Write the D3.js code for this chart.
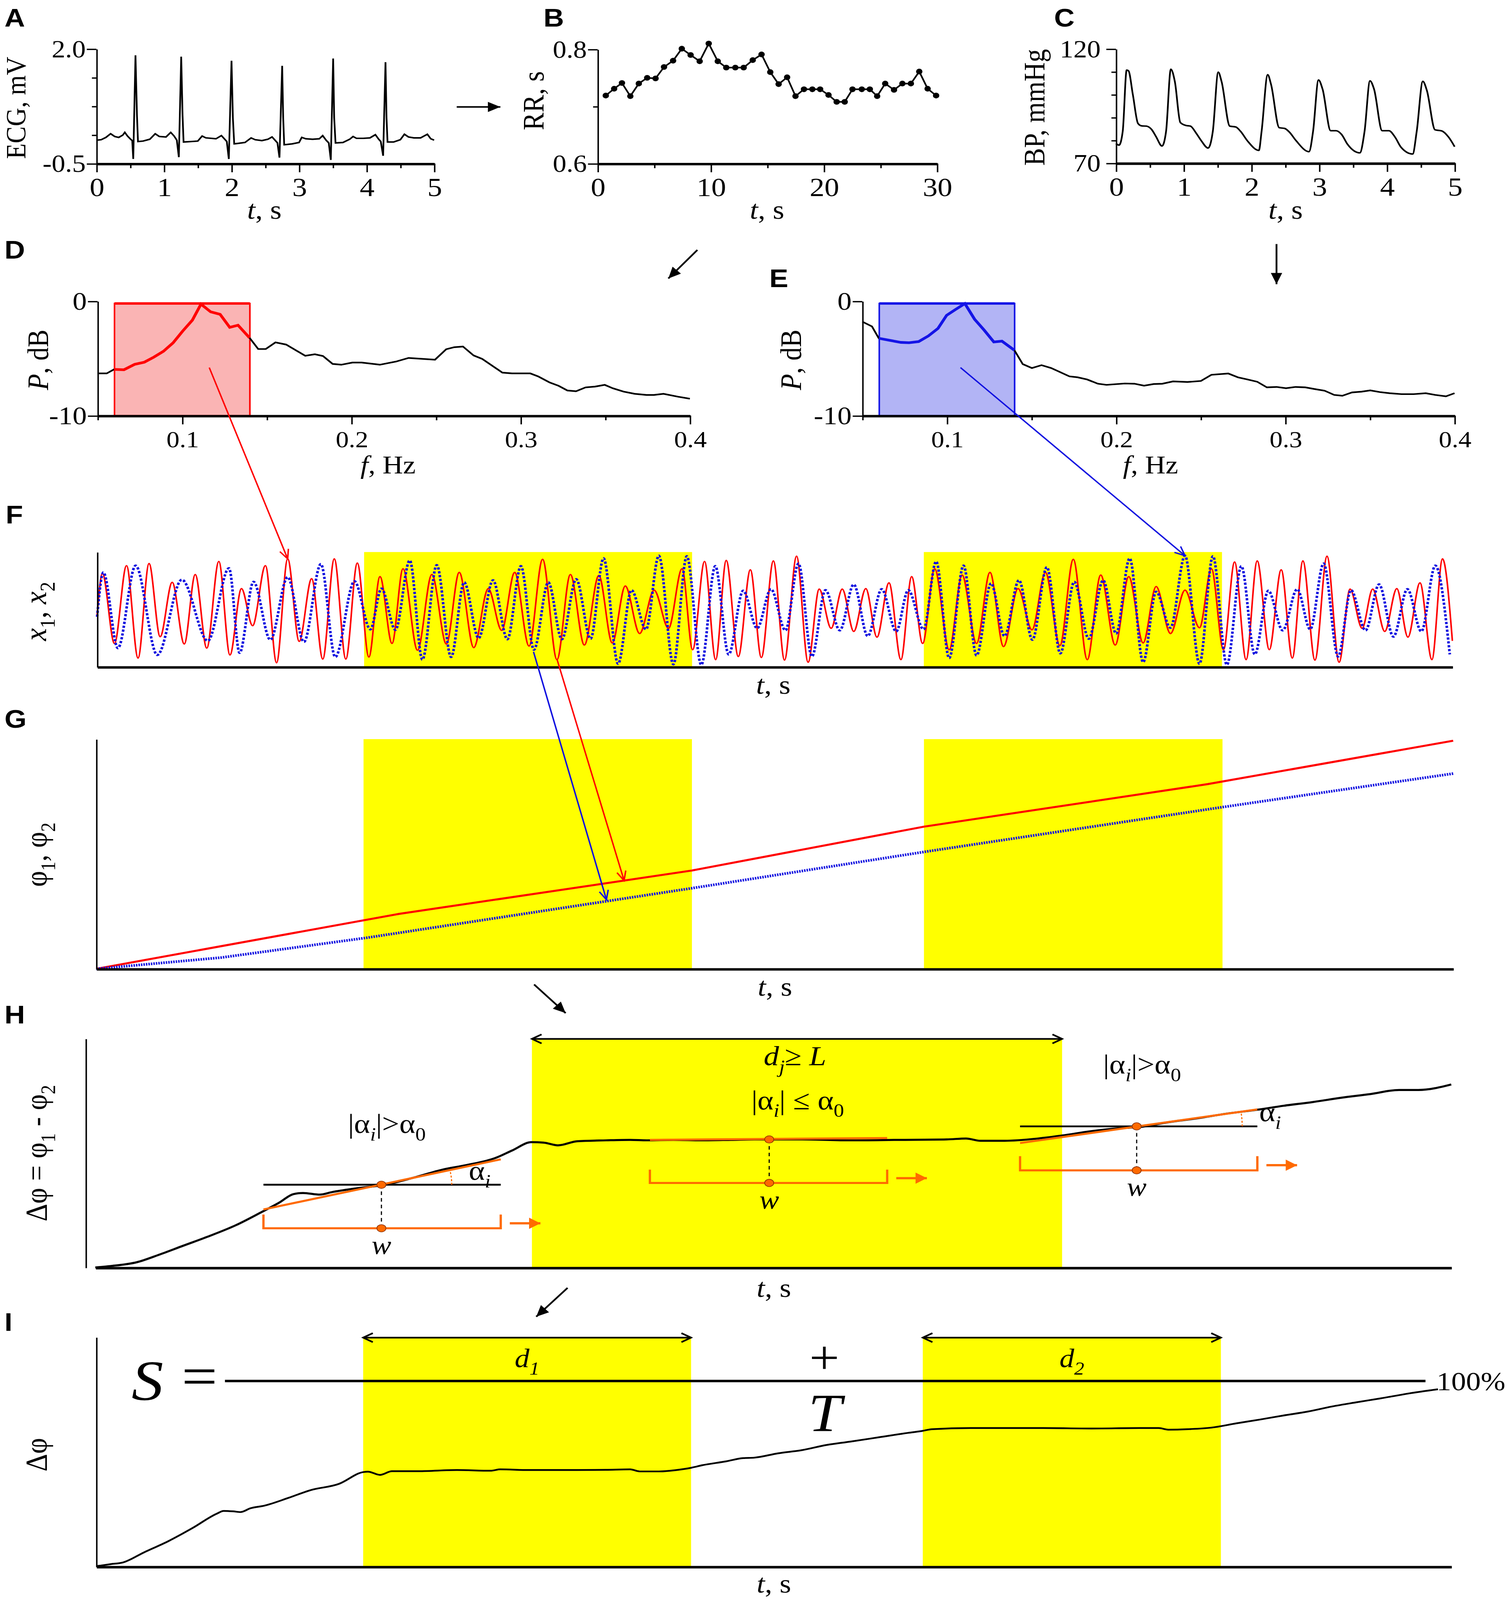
<!DOCTYPE html>
<html>
<head>
<meta charset="utf-8">
<script src="https://cdn.jsdelivr.net/npm/d3@7"></script>
<style>
html, body { margin: 0; padding: 0; background: #fff; width: 100%; height: 100%; overflow: hidden; }
svg { display: block; width: 100vw; height: 100vh; }
text { white-space: pre; }
</style>
</head>
<body>
<script>
var serif = "'Liberation Serif', 'Times New Roman', serif";
var sans = "'Liberation Sans', Arial, sans-serif";
var RED = "#ff0000", BLUE = "#1010e0", ORANGE = "#ff6a00", YELLOW = "#ffff00";

// ---- A: ECG, [t s, mV]
var ecg = [[0,0.01],[0.07,0.02],[0.14,0.07],[0.21,0.15],[0.27,0.09],[0.33,0.07],[0.39,0.12],[0.42,0.18],[0.46,0.1],[0.5,0.04],[0.53,0.0],[0.545,-0.4],[0.578,1.86],[0.6,0.55],[0.615,-0.02],[0.69,-0.01],[0.79,0.03],[0.87,0.15],[0.93,0.09],[1.03,0.08],[1.1,0.18],[1.15,0.1],[1.19,0.01],[1.22,-0.36],[1.255,1.83],[1.275,0.55],[1.29,-0.03],
  [1.4,-0.02],[1.5,-0.01],[1.565,0.1],[1.62,0.06],[1.7,0.05],[1.77,0.04],[1.85,0.11],[1.9,0.03],[1.93,-0.02],[1.96,-0.4],[2.0,1.74],[2.02,0.5],[2.04,-0.07],
  [2.1,-0.06],[2.2,-0.04],[2.29,0.06],[2.35,0.02],[2.45,0.0],[2.54,0.03],[2.6,0.08],[2.65,0.0],[2.68,-0.05],[2.71,-0.37],[2.75,1.63],[2.765,0.5],[2.78,-0.09],
  [2.9,-0.07],[3.0,-0.04],[3.04,0.07],[3.1,0.04],[3.2,0.03],[3.3,0.04],[3.35,0.11],[3.4,0.01],[3.44,-0.05],[3.47,-0.42],[3.505,1.79],[3.52,0.5],[3.54,-0.05],
  [3.65,-0.04],[3.75,0.03],[3.8,0.09],[3.85,0.05],[3.95,0.05],[4.05,0.06],[4.13,0.13],[4.18,0.03],[4.21,-0.02],[4.245,-0.33],[4.28,1.71],[4.295,0.5],[4.31,-0.03],
  [4.4,-0.03],[4.5,0.02],[4.56,0.14],[4.62,0.08],[4.7,0.06],[4.8,0.06],[4.9,0.14],[4.95,0.04],[5.0,0.01]];

// ---- B: RR intervals
var rrT = [0.72,1.46,2.15,2.89,3.64,4.38,5.12,5.87,6.67,7.44,8.22,9.02,9.82,10.62,11.37,12.17,12.91,13.71,14.49,15.26,16.0,16.75,17.49,18.24,18.98,19.67,20.41,21.13,21.84,22.53,23.35,24.06,24.71,25.42,26.2,26.94,27.69,28.43,29.17,29.92];
var rrV = [0.719,0.731,0.741,0.718,0.740,0.750,0.749,0.769,0.780,0.801,0.790,0.779,0.810,0.779,0.768,0.768,0.768,0.781,0.791,0.760,0.739,0.751,0.718,0.730,0.730,0.730,0.720,0.708,0.708,0.730,0.730,0.730,0.718,0.740,0.729,0.740,0.740,0.761,0.731,0.719];

// ---- C: blood pressure, [t s, mmHg]
var bp = [[0,78.5],[0.046,77.9],[0.1,83.9],[0.158,110.7],[0.185,110.4],[0.25,99.9],[0.325,87.4],[0.38,86.3],[0.45,86.2],[0.53,84.6],[0.59,81.7],[0.68,77.5],
  [0.74,83.9],[0.81,111.1],[0.87,105.6],[0.95,87.8],[1.03,86.5],[1.1,86.2],[1.18,83.3],[1.26,79.8],[1.36,76.6],
  [1.43,83.9],[1.51,109.8],[1.56,105.6],[1.68,86.2],[1.77,85.8],[1.84,83.9],[1.94,79.8],[2.11,75.6],
  [2.15,83.9],[2.24,108.7],[2.29,104.4],[2.41,85.5],[2.49,85.2],[2.56,83.6],[2.66,79.8],[2.85,75.0],
  [2.91,83.9],[2.99,106.4],[3.05,102.4],[3.17,84.2],[3.25,84.2],[3.33,82.6],[3.42,78.2],[3.6,74.5],
  [3.67,83.9],[3.75,106.0],[3.81,102.4],[3.93,84.2],[4.03,84.2],[4.12,81.4],[4.21,76.9],[4.38,74.0],
  [4.44,83.9],[4.53,105.8],[4.59,101.8],[4.71,84.6],[4.81,84.1],[4.91,81.4],[5.0,77.2]];

// ---- D, E: spectra [f Hz, dB]
var specD = [[0.05,-6.31],[0.0554,-6.31],[0.0597,-5.96],[0.0656,-5.99],[0.0719,-5.52],[0.0776,-5.33],[0.0832,-4.89],[0.0889,-4.38],[0.0946,-3.64],[0.1003,-2.61],[0.106,-1.66],[0.1111,-0.26],[0.1168,-0.93],[0.1224,-1.15],[0.1281,-2.29],[0.133,-2.1],[0.1398,-3.2],[0.1449,-4.18],[0.1494,-4.18],[0.1551,-3.6],[0.1614,-3.79],[0.1727,-4.77],[0.1784,-4.64],[0.1832,-4.79],[0.1889,-5.48],[0.194,-5.55],[0.2006,-5.36],[0.206,-5.36],[0.2168,-5.55],[0.2267,-5.26],[0.2338,-4.96],[0.2494,-5.11],[0.256,-4.2],[0.2608,-4.02],[0.2659,-3.96],[0.2722,-4.74],[0.2773,-5.04],[0.2892,-6.24],[0.2949,-6.31],[0.3057,-6.31],[0.3105,-6.58],[0.317,-7.09],[0.3224,-7.39],[0.3276,-7.8],[0.3327,-7.87],[0.3384,-7.53],[0.344,-7.46],[0.3497,-7.31],[0.3545,-7.61],[0.3608,-7.9],[0.3673,-8.09],[0.3744,-8.19],[0.3787,-8.19],[0.3844,-8.09],[0.3929,-8.34],[0.4,-8.52]];
var specE = [[0.05,-1.79],[0.0557,-2.21],[0.0597,-3.24],[0.0657,-3.41],[0.0728,-3.6],[0.0776,-3.63],[0.0833,-3.53],[0.089,-3.04],[0.0947,-2.38],[0.0998,-1.24],[0.1049,-0.74],[0.1106,-0.21],[0.1163,-1.57],[0.122,-2.53],[0.1277,-3.56],[0.1325,-3.49],[0.1399,-4.29],[0.1448,-5.5],[0.1502,-5.84],[0.1559,-5.59],[0.1616,-5.84],[0.1724,-6.57],[0.1772,-6.65],[0.1829,-6.84],[0.1892,-7.21],[0.1943,-7.31],[0.2051,-7.19],[0.2108,-7.21],[0.2165,-7.38],[0.2222,-7.24],[0.2273,-7.21],[0.2336,-7.01],[0.2421,-7.06],[0.2501,-6.97],[0.2563,-6.43],[0.2663,-6.32],[0.272,-6.65],[0.2777,-6.84],[0.2834,-7.04],[0.2891,-7.53],[0.2948,-7.49],[0.3004,-7.6],[0.3061,-7.49],[0.3118,-7.53],[0.3175,-7.68],[0.3232,-7.82],[0.3289,-8.19],[0.3337,-8.26],[0.3394,-7.97],[0.3451,-7.9],[0.3502,-7.79],[0.3559,-7.94],[0.3616,-8.04],[0.3687,-8.12],[0.3758,-8.12],[0.383,-8.04],[0.3886,-8.19],[0.3949,-8.31],[0.4,-8.04]];
var lfBand = [0.06, 0.14];

// ---- F: filtered signals, extrema [t %, a.u.]
var x1 = [[0,-0.1],[0.39,0.69],[1.28,-0.65],[2.17,0.84],[3.02,-0.93],[3.83,0.88],[4.65,-0.52],[5.54,0.52],[6.43,-0.66],[7.24,0.67],[8.09,-0.74],[8.98,0.92],[9.8,-0.87],[10.65,0.4],[11.47,-0.31],[12.42,0.84],[13.24,-1.02],[14.06,0.97],[14.91,-0.61],[15.83,0.59],[16.65,-0.95],[17.5,0.97],[18.35,-0.95],[19.2,0.89],[20.05,-0.91],[20.87,0.63],[21.76,-0.65],[22.57,0.78],[23.64,-0.78],[24.7,0.67],[25.77,-0.66],[26.72,0.71],[27.79,-0.73],[28.86,0.4],[29.85,-0.4],[30.81,0.71],[31.87,-0.7],[32.87,0.96],[33.93,-0.96],[34.92,0.67],[35.95,-0.68],[37.02,0.65],[38.01,-0.64],[38.97,0.45],[40.03,-0.46],[41.1,0.37],[42.16,-0.36],[43.16,0.78],[43.94,-0.77],[44.82,0.92],[45.64,-0.96],[46.42,0.94],[47.31,-0.9],[48.2,0.76],[49.01,-0.92],[49.9,0.93],[50.72,-0.97],[51.61,1.02],[52.46,-1.01],[53.28,0.39],[54.16,-0.36],[54.98,0.39],[55.83,-0.42],[56.72,0.4],[57.54,-0.53],[58.43,0.51],[59.31,-0.96],[60.1,0.63],[60.91,-0.65],[61.8,0.78],[62.87,-0.77],[63.82,0.66],[64.89,-0.65],[65.88,0.71],[66.88,-0.71],[67.95,0.4],[68.98,-0.39],[69.97,0.71],[71.04,-0.69],[72.03,0.96],[73.06,-0.96],[74.05,0.66],[75.12,-0.68],[76.12,0.63],[77.18,-0.64],[78.14,0.44],[79.2,-0.46],[80.27,0.37],[81.34,-0.35],[82.22,0.78],[83.11,-0.77],[83.93,0.91],[84.78,-0.96],[85.6,0.93],[86.49,-0.77],[87.37,0.76],[88.19,-0.93],[88.97,0.93],[89.86,-0.97],[90.75,1.02],[91.64,-1.01],[92.45,0.39],[93.34,-0.36],[94.12,0.39],[95.01,-0.42],[95.9,0.4],[96.72,-0.53],[97.61,0.51],[98.49,-0.96],[99.27,0.97],[100,-0.6]];
var x2 = [[0,-0.14],[0.46,0.71],[1.53,-0.74],[2.84,0.84],[4.44,-0.87],[6.25,0.57],[8.17,-0.6],[9.73,0.79],[10.51,-0.83],[11.54,0.53],[12.78,-0.58],[14.06,0.62],[15.26,-0.62],[16.51,0.87],[17.57,-0.91],[18.99,0.54],[20.16,-0.38],[20.98,0.4],[22.01,-0.39],[23.07,0.94],[24,-0.96],[25.06,0.85],[26.12,-0.91],[27.08,0.52],[28.15,-0.55],[29.21,0.56],[30.27,-0.57],[31.27,0.83],[32.23,-0.77],[33.29,0.52],[34.29,-0.57],[35.35,0.58],[36.41,-0.56],[37.37,0.98],[38.44,-1.04],[39.43,0.37],[40.5,-0.38],[41.45,1.03],[42.52,-1.05],[43.51,1.02],[44.58,-1.06],[45.61,0.83],[46.6,-0.86],[47.67,0.36],[48.7,-0.36],[49.72,0.39],[50.79,-0.4],[51.75,0.88],[52.74,-0.9],[53.74,0.37],[54.8,-0.4],[55.83,0.48],[56.86,-0.51],[57.89,0.39],[58.96,-0.42],[59.85,0.37],[60.98,-0.38],[61.91,0.92],[62.87,-0.93],[63.93,0.84],[64.89,-0.88],[65.96,0.5],[66.95,-0.51],[68.02,0.56],[69.01,-0.58],[70.08,0.81],[71.07,-0.84],[72.1,0.53],[73.17,-0.56],[74.23,0.56],[75.19,-0.46],[76.19,0.98],[77.18,-1.01],[78.14,0.34],[79.2,-0.35],[80.27,1.03],[81.34,-1.04],[82.33,1.02],[83.36,-1.06],[84.43,0.83],[85.42,-0.86],[86.42,0.36],[87.48,-0.4],[88.55,0.39],[89.51,-0.38],[90.5,0.88],[91.57,-0.9],[92.52,0.37],[93.59,-0.4],[94.59,0.48],[95.65,-0.52],[96.68,0.39],[97.71,-0.42],[98.74,0.84],[99.81,-0.86]];
var syncStart = [19.7, 61.0], syncEnd = [43.9, 83.0];

// ---- G: phases
var phi1 = [[0,0],[22.3,23.9],[43.9,42.8],[61,61.9],[81.9,80.4],[100,99.3]];
var phi2 = [[0,0],[9.2,4.9],[19.9,13.5],[43.9,35.1],[61,50.9],[83,70.4],[100,85]];

// ---- H: phase difference and sliding windows
var dphiH = [[0,0.1],[1.13,0.7],[3.08,2.4],[4.68,5.6],[6.45,9.5],[8.23,13.4],[10.35,18.5],[12.3,24.4],[13.54,28.3],[14.61,32.1],[15.32,32.6],[16.56,31.9],[17.46,33.0],[19.22,34.6],[21.35,36.2],[23.48,39.3],[25.61,42.8],[27.38,44.8],[29.51,47.9],[30.75,51.2],[32.17,54.8],[33.06,54.6],[34.12,53.4],[35.54,55.2],[37.67,55.6],[39.44,55.8],[40.68,55.6],[42.63,55.8],[44.76,55.6],[46.89,55.8],[48.59,56.0],[52.14,56.0],[55.69,55.6],[59.24,55.8],[62.79,56.0],[64.21,56.4],[65.28,55.4],[67.05,55.4],[69.54,56.4],[71.31,57.7],[73.44,59.6],[75.57,60.9],[76.99,61.4],[79.12,63.5],[81.25,65.2],[83.38,67.2],[85.87,69.1],[87.64,70.7],[89.77,72.3],[91.9,74.2],[94.03,75.8],[96.16,77.6],[97.58,77.6],[100,80.0]];
var hBand = [32.2, 71.3];
var winMid = [21.1, 49.7, 76.8];
var winFrom = [12.4, 40.9, 68.2];
var winTo = [29.9, 58.4, 85.7];
var winLevel = [36.2, 56.0, 61.7];
var fitFrom = [25.4, 55.8, 54.4];
var fitTo = [47.3, 56.6, 69.1];
var bracketTop = [23.2, 42.8, 48.7];
var bracketBase = [17.2, 37.0, 42.5];
var winSteep = [true, false, true];
var arcR = [62, 0, 93];

// ---- I: phase difference, synchronization index
var dphiI = [[0,0.2],[1.06,1.1],[1.95,1.8],[3.55,6.3],[5.32,11.1],[7.1,16.8],[8.87,23.0],[9.41,24.3],[10.11,24.1],[10.65,23.8],[11.36,25.4],[12.42,26.6],[14.2,30.0],[15.79,33.3],[17.92,36.1],[19.7,41.2],[20.05,41.4],[20.94,40.0],[21.83,41.6],[23.78,41.6],[26.62,42.1],[29.1,41.8],[29.81,42.4],[31.95,42.1],[35.45,42.1],[37.62,42.2],[39.4,42.4],[40.11,41.5],[41.53,41.5],[42.95,42.2],[43.91,43.1],[44.72,44.2],[46.5,45.9],[47.74,47.3],[48.56,47.5],[50.33,49.4],[52.1,50.8],[53.88,53.0],[55.66,54.5],[57.79,56.4],[59.92,58.3],[60.81,59.0],[61.7,59.9],[64.54,60.4],[66.33,60.4],[69.88,60.4],[73.43,60.2],[76.98,60.4],[78.41,60.4],[79.12,59.7],[80.54,59.9],[82.32,60.6],[84.1,62.4],[85.87,64.1],[87.65,65.9],[89.43,67.6],[91.2,69.8],[92.98,71.6],[94.76,73.3],[96.89,75.5],[99.02,77.3]];

// ---------------------------------------------------------------
// the figure is laid out in a 1329.9 x 1565.1 box and stretched to the window
var svg = d3.select("body").append("svg")
  .attr("viewBox", "0 0 1329.9 1565.1")
  .attr("preserveAspectRatio", "none");

var defs = svg.append("defs");
function marker(id, d, w, h, color, filled, sw) {
  defs.append("marker").attr("id", id)
    .attr("viewBox", "0 0 " + w + " " + h)
    .attr("refX", w).attr("refY", h / 2)
    .attr("markerWidth", w).attr("markerHeight", h)
    .attr("markerUnits", "userSpaceOnUse")
    .attr("orient", "auto-start-reverse")
    .attr("overflow", "visible")
    .append("path").attr("d", d)
    .attr("fill", filled ? color : "none")
    .attr("stroke", filled ? "none" : color)
    .attr("stroke-width", sw || 1.3);
}
marker("headBlack", "M0,0L11,5L0,10Z", 11, 10, "#000", true);
marker("headOrange", "M0,0L10,5.5L0,11Z", 10, 11, ORANGE, true);
marker("openRed", "M0,0L9,4L0,8", 9, 8, RED, false, 1.3);
marker("openBlue", "M0,0L9,4L0,8", 9, 8, BLUE, false, 1.3);
marker("chev", "M0,0L8.5,4.4L0,8.8", 8.5, 8.8, "#000", false, 1.6);

function rich(x, y, parts, size, anchor, rotate) {
  var t = svg.append("text")
    .attr("transform", "translate(" + x + "," + y + ")" + (rotate ? " rotate(-90)" : ""))
    .attr("font-family", serif).attr("font-size", size)
    .attr("text-anchor", anchor || "middle").attr("fill", "#000");
  var shift = 0;
  parts.forEach(function (p) {
    var f = p[1] || "";
    var s = t.append("tspan").text(p[0]);
    var want = f.indexOf("s") >= 0 ? 0.28 * size : 0;
    if (want !== shift) { s.attr("dy", want - shift); shift = want; }
    if (f.indexOf("s") >= 0) s.attr("font-size", size * 0.68);
    if (f.indexOf("i") >= 0) s.attr("font-style", "italic");
  });
  return t;
}

function letter(x, y, s) {
  svg.append("text").attr("x", x).attr("y", y).text(s)
    .attr("font-family", sans).attr("font-weight", "bold").attr("font-size", 25);
}

function drawAxes(x, y, o) {
  var y0 = y.range()[0], x0 = x.range()[0];
  if (o.xMinor) {
    var mx = svg.append("g").attr("transform", "translate(0," + y0 + ")")
      .call(d3.axisBottom(x).tickValues(o.xMinor).tickSize(4.5).tickFormat(""));
    mx.select(".domain").remove();
  }
  var gx = svg.append("g").attr("transform", "translate(0," + y0 + ")")
    .call(d3.axisBottom(x).tickValues(o.xMajor || []).tickSize(8.5).tickSizeOuter(0)
      .tickPadding(o.xPad || 5).tickFormat(o.xFmt || function (d) { return d; }));
  gx.select(".domain").attr("stroke-width", 2.4);
  gx.selectAll("text").attr("font-family", serif).attr("font-size", o.xSize || 26);
  var ax = o.yAxisX !== undefined ? o.yAxisX : x0;
  if (o.yMinor) {
    var my = svg.append("g").attr("transform", "translate(" + ax + ",0)")
      .call(d3.axisLeft(y).tickValues(o.yMinor).tickSize(4).tickFormat(""));
    my.select(".domain").remove();
  }
  var gy = svg.append("g").attr("transform", "translate(" + ax + ",0)")
    .call(d3.axisLeft(y).tickValues(o.yMajor || []).tickSize(8.5).tickSizeOuter(0)
      .tickPadding(o.yPad || 1).tickFormat(o.yFmt || function (d) { return d; }));
  gy.select(".domain").attr("stroke-width", 1.3);
  gy.selectAll("text").attr("font-family", serif).attr("font-size", o.ySize || 24);
  svg.selectAll(".tick line").attr("stroke-width", 1.3);
}

function line(xs, ys, curve) {
  return d3.line().x(function (d) { return xs(d[0]); }).y(function (d) { return ys(d[1]); })
    .curve(curve || d3.curveLinear);
}

var tS = [["t", "i"], [", s"]];

// ---------------- A
var xA = d3.scaleLinear().domain([0, 5]).range([85, 382.6]);
var yA = d3.scaleLinear().domain([-0.5, 2.0]).range([160, 47.8]);
drawAxes(xA, yA, { xMajor: [0, 1, 2, 3, 4, 5], xMinor: [0.5, 1.5, 2.5, 3.5, 4.5],
  yMajor: [-0.5, 2.0], yMinor: [0.125, 0.75, 1.375], yFmt: function (d) { return d.toFixed(1); }, yPad: 0 });
svg.append("path").attr("d", line(xA, yA)(ecg)).attr("fill", "none").attr("stroke", "#000").attr("stroke-width", 1.5);
rich(22.5, 105.5, [["ECG, mV"]], 25, "middle", true);
rich(233, 214, tS, 26);
letter(4, 26, "A");

// ---------------- B
var xB = d3.scaleLinear().domain([0, 30]).range([526.7, 825.8]);
var yB = d3.scaleLinear().domain([0.6, 0.8]).range([160, 48.2]);
drawAxes(xB, yB, { xMajor: [0, 10, 20, 30], xMinor: [5, 15, 25], yMajor: [0.6, 0.8], yMinor: [0.7],
  yFmt: function (d) { return d.toFixed(1); }, yPad: 1 });
var rr = rrT.map(function (t, i) { return [t, rrV[i]]; });
svg.append("path").attr("d", line(xB, yB)(rr)).attr("fill", "none").attr("stroke", "#000").attr("stroke-width", 1.5);
svg.selectAll(".rr").data(rr).enter().append("circle")
  .attr("cx", function (d) { return xB(d[0]); }).attr("cy", function (d) { return yB(d[1]); })
  .attr("r", 2.8).attr("fill", "#000");
rich(479, 98.5, [["RR, s"]], 26, "middle", true);
rich(676, 214, tS, 26);
letter(479, 26, "B");

// ---------------- C
var xC = d3.scaleLinear().domain([0, 5]).range([983.5, 1282]);
var yC = d3.scaleLinear().domain([70, 120]).range([159.6, 47.8]);
drawAxes(xC, yC, { xMajor: [0, 1, 2, 3, 4, 5], xMinor: [0.5, 1.5, 2.5, 3.5, 4.5],
  yMajor: [70, 120], yMinor: [80, 90, 100, 110], yPad: 5 });
svg.append("path").attr("d", line(xC, yC, d3.curveMonotoneX)(bp)).attr("fill", "none").attr("stroke", "#000").attr("stroke-width", 1.5);
rich(920.5, 105, [["BP, mmHg"]], 26, "middle", true);
rich(1133, 214, tS, 26);
letter(929, 26, "C");

// ---------------- D / E
function spectrum(xs, ys, data, col, fill, yT, xT) {
  svg.append("rect").attr("x", xs(lfBand[0])).attr("y", ys(-0.2))
    .attr("width", xs(lfBand[1]) - xs(lfBand[0])).attr("height", ys(-10) - ys(-0.2))
    .attr("fill", fill).attr("stroke", col).attr("stroke-width", 1.4);
  svg.append("line").attr("x1", xs(lfBand[0])).attr("x2", xs(lfBand[1]))
    .attr("y1", ys(-0.2)).attr("y2", ys(-0.2)).attr("stroke", col).attr("stroke-width", 2.4);
  drawAxes(xs, ys, { xMajor: [0.1, 0.2, 0.3, 0.4], xMinor: [0.05, 0.15, 0.25, 0.35],
    xFmt: function (d) { return d.toFixed(1); }, xSize: 23, xPad: 6,
    yMajor: [-10, 0], ySize: 25, yPad: 1 });
  svg.append("path").attr("d", line(xs, ys)(data)).attr("fill", "none").attr("stroke", "#000").attr("stroke-width", 1.6);
  var inside = data.filter(function (d) { return d[0] >= lfBand[0] - 0.001 && d[0] <= lfBand[1] + 0.001; });
  svg.append("path").attr("d", line(xs, ys)(inside)).attr("fill", "none").attr("stroke", col).attr("stroke-width", 2.6);
  rich(yT, 352, [["P", "i"], [", dB"]], 26, "middle", true);
  rich(xT, 463, [["f", "i"], [", Hz"]], 25);
}
var xD = d3.scaleLinear().domain([0.05, 0.4]).range([86, 608]);
var yD = d3.scaleLinear().domain([-10, 0]).range([406.6, 294.6]);
spectrum(xD, yD, specD, RED, "#fab4b4", 42.5, 342);
letter(4, 253, "D");
var xE = d3.scaleLinear().domain([0.05, 0.4]).range([760, 1281.9]);
var yE = d3.scaleLinear().domain([-10, 0]).range([406.6, 294.6]);
spectrum(xE, yE, specE, "#1414e6", "#b2b4f5", 706, 1014);
letter(678, 281, "E");

// ---------------- F
var xF = d3.scaleLinear().domain([0, 100]).range([85.6, 1280]);
var yF = d3.scaleLinear().domain([-1.1, 1.1]).range([652.4, 540]);
function bands(xs, ys, from, to, top) {
  from.forEach(function (a, i) {
    svg.append("rect").attr("x", xs(a)).attr("y", ys(top))
      .attr("width", xs(to[i]) - xs(a)).attr("height", ys.range()[0] - ys(top)).attr("fill", YELLOW);
  });
}
bands(xF, yF, syncStart, syncEnd, 1.1);
svg.append("path").attr("d", line(xF, yF, d3.curveMonotoneX)(x1)).attr("fill", "none").attr("stroke", RED).attr("stroke-width", 1.4);
svg.append("path").attr("d", line(xF, yF, d3.curveMonotoneX)(x2)).attr("fill", "none").attr("stroke", BLUE)
  .attr("stroke-width", 2.3).attr("stroke-dasharray", "2.2 1.6");
drawAxes(xF, yF, {});
rich(40.5, 598, [["x", "i"], ["1", "s"], [", "], ["x", "i"], ["2", "s"]], 28, "middle", true);
rich(681.5, 678.5, tS, 26);
letter(5, 512, "F");

// ---------------- G
var xG = d3.scaleLinear().domain([0, 100]).range([84.8, 1280.7]);
var yG = d3.scaleLinear().domain([0, 100]).range([947.7, 723]);
bands(xG, yG, syncStart, syncEnd, 100);
svg.append("path").attr("d", line(xG, yG)(phi1)).attr("fill", "none").attr("stroke", RED).attr("stroke-width", 2);
svg.append("path").attr("d", line(xG, yG)(phi2)).attr("fill", "none").attr("stroke", BLUE)
  .attr("stroke-width", 2.6).attr("stroke-dasharray", "1.3 0.9");
drawAxes(xG, yG, {});
rich(41, 836, [["φ"], ["1", "s"], [", φ"], ["2", "s"]], 27, "middle", true);
rich(683, 974, tS, 26);
letter(4, 712, "G");

// ---------------- H
var xH = d3.scaleLinear().domain([0, 100]).range([84, 1279]);
var yH = d3.scaleLinear().domain([0, 100]).range([1240, 1016]);
svg.append("rect").attr("x", xH(hBand[0])).attr("y", yH(100))
  .attr("width", xH(hBand[1]) - xH(hBand[0])).attr("height", yH(0) - yH(100)).attr("fill", YELLOW);
drawAxes(xH, yH, { yAxisX: 75.5 });
svg.append("line").attr("x1", xH(hBand[0])).attr("x2", xH(hBand[1])).attr("y1", yH(99.9)).attr("y2", yH(99.9))
  .attr("stroke", "#000").attr("stroke-width", 1.6)
  .attr("marker-start", "url(#chev)").attr("marker-end", "url(#chev)");
svg.append("path").attr("d", line(xH, yH, d3.curveMonotoneX)(dphiH)).attr("fill", "none").attr("stroke", "#000").attr("stroke-width", 2);

winMid.forEach(function (m, i) {
  var xa = xH(winFrom[i]), xb = xH(winTo[i]), xm = xH(m), yl = yH(winLevel[i]);
  var yt = yH(bracketTop[i]), yb = yH(bracketBase[i]);
  if (winSteep[i]) {
    svg.append("line").attr("x1", xa).attr("x2", xb).attr("y1", yl).attr("y2", yl)
      .attr("stroke", "#000").attr("stroke-width", 1.8);
  }
  var ya = yH(fitFrom[i]), yz = yH(fitTo[i]);
  svg.append("line").attr("x1", xa).attr("x2", xb).attr("y1", ya).attr("y2", yz)
    .attr("stroke", ORANGE).attr("stroke-width", 2);
  if (winSteep[i]) {
    var th = Math.atan2(ya - yz, xb - xa), r = arcR[i];
    svg.append("path")
      .attr("d", "M" + (xm + r) + "," + yl + "A" + r + "," + r + " 0 0 0 " + (xm + r * Math.cos(th)) + "," + (yl - r * Math.sin(th)))
      .attr("fill", "none").attr("stroke", ORANGE).attr("stroke-width", 1).attr("stroke-dasharray", "2 1.5");
    rich(xm + r + 15, yl - 5, [["α"], ["i", "is"]], 27, "start");
  }
  svg.append("line").attr("x1", xm).attr("x2", xm).attr("y1", yl).attr("y2", yb)
    .attr("stroke", "#000").attr("stroke-width", 1).attr("stroke-dasharray", "3.5 3");
  svg.append("path").attr("d", "M" + xa + "," + yt + "V" + yb + "H" + xb + "V" + yt)
    .attr("fill", "none").attr("stroke", ORANGE).attr("stroke-width", 2);
  [yl, yb].forEach(function (yy) {
    svg.append("ellipse").attr("cx", xm).attr("cy", yy).attr("rx", 4).attr("ry", 3.6)
      .attr("fill", ORANGE).attr("stroke", "#8a3000").attr("stroke-width", 0.6);
  });
  var ay = yb - (yb - yt) * 0.36;
  svg.append("line").attr("x1", xb + 8).attr("x2", xb + 35).attr("y1", ay).attr("y2", ay)
    .attr("stroke", ORANGE).attr("stroke-width", 2.2).attr("marker-end", "url(#headOrange)");
  rich(xm, yb + 25, [["w", "i"]], 26);
});
rich(xH(21.5), yH(58.9), [["|α"], ["i", "is"], ["|>α"], ["0", "s"]], 27);
rich(xH(77.2), yH(84.8), [["|α"], ["i", "is"], ["|>α"], ["0", "s"]], 27);
rich(xH(51.8), yH(69.2), [["|α"], ["i", "is"], ["| ≤ α"], ["0", "s"]], 27);
rich(xH(51.6), yH(88.4), [["d", "i"], ["j", "is"], ["≥ "], ["L", "i"]], 27);
rich(41, 1128, [["Δφ = φ"], ["1", "s"], [" - φ"], ["2", "s"]], 27, "middle", true);
rich(682, 1268.5, tS, 26);
letter(4, 1001, "H");

// ---------------- I
var xI = d3.scaleLinear().domain([0, 100]).range([84.8, 1279]);
var yI = d3.scaleLinear().domain([0, 100]).range([1532.5, 1308]);
bands(xI, yI, syncStart, syncEnd, 100);
drawAxes(xI, yI, {});
syncStart.forEach(function (a, i) {
  svg.append("line").attr("x1", xI(a)).attr("x2", xI(syncEnd[i])).attr("y1", yI(99.8)).attr("y2", yI(99.8))
    .attr("stroke", "#000").attr("stroke-width", 1.6)
    .attr("marker-start", "url(#chev)").attr("marker-end", "url(#chev)");
  rich(xI((a + syncEnd[i]) / 2), 1337.5, [["d", "i"], [String(i + 1), "is"]], 26);
});
svg.append("path").attr("d", line(xI, yI, d3.curveMonotoneX)(dphiI)).attr("fill", "none").attr("stroke", "#000").attr("stroke-width", 1.7);
svg.append("line").attr("x1", xI(9.5)).attr("x2", xI(98.1)).attr("y1", yI(80.9)).attr("y2", yI(80.9))
  .attr("stroke", "#000").attr("stroke-width", 2.4);
rich(116, 1369.5, [["S", "i"]], 56, "start");
rich(160, 1365, [["="]], 56, "start");
rich(726.5, 1344, [["+"]], 47);
rich(727, 1400, [["T", "i"]], 53);
rich(1266, 1360, [["100%"]], 26, "start");
rich(41, 1423, [["Δφ"]], 27, "middle", true);
rich(682, 1558, tS, 26);
letter(4, 1302, "I");

// ---------------- flow arrows
var flow = [[402.5, 104.6, 441, 104.6], [614.6, 244.5, 589, 272.4], [1125, 238.7, 1125, 278],
  [470.7, 963, 498.5, 991], [500.2, 1259.8, 472.6, 1288]];
flow.forEach(function (a) {
  svg.append("line").attr("x1", a[0]).attr("y1", a[1]).attr("x2", a[2]).attr("y2", a[3])
    .attr("stroke", "#000").attr("stroke-width", 1.6).attr("marker-end", "url(#headBlack)");
});
var links = [
  { c: RED, m: "openRed", a: [xD, yD, 0.116, -5.8], b: [xF, yF, 14.06, 0.97] },
  { c: BLUE, m: "openBlue", a: [xE, yE, 0.108, -5.8], b: [xF, yF, 80.27, 1.03] },
  { c: RED, m: "openRed", a: [xF, yF, 33.93, -0.95], b: [xG, yG, 38.9, 38.45] },
  { c: BLUE, m: "openBlue", a: [xF, yF, 32.2, -0.81], b: [xG, yG, 37.6, 30.1] }
];
links.forEach(function (l) {
  svg.append("line")
    .attr("x1", l.a[0](l.a[2])).attr("y1", l.a[1](l.a[3]))
    .attr("x2", l.b[0](l.b[2])).attr("y2", l.b[1](l.b[3]))
    .attr("stroke", l.c).attr("stroke-width", 1.3).attr("marker-end", "url(#" + l.m + ")");
});
</script>
</body>
</html>
